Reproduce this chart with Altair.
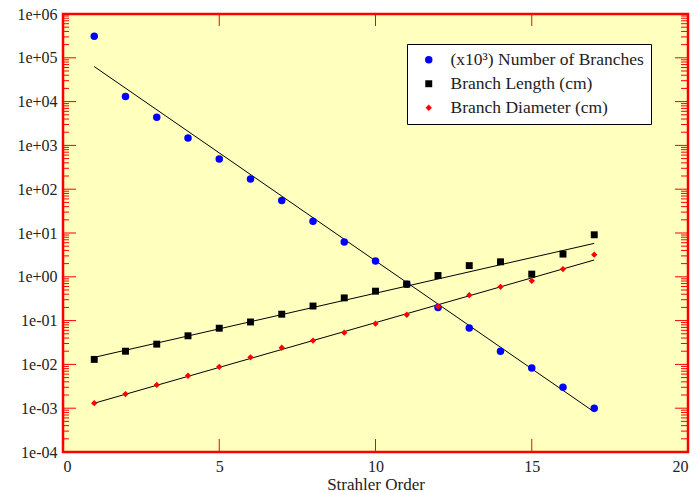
import altair as alt
import pandas as pd

# ---- data ----
order = list(range(1, 18))
branches = [3.1e5, 1.3e4, 4.4e3, 1.48e3, 490, 170, 55, 18.5, 6.2, 2.3,
            0.68, 0.2, 0.068, 0.02, 0.0083, 0.003, 0.001]
length = [0.013, 0.020, 0.029, 0.045, 0.067, 0.093, 0.14, 0.215, 0.33, 0.47,
          0.68, 1.07, 1.8, 2.2, 1.15, 3.3, 9.1]
diameter = [0.0013, 0.0021, 0.0034, 0.0055, 0.0088, 0.0145, 0.024, 0.035, 0.053, 0.085,
            0.136, 0.21, 0.38, 0.59, 0.81, 1.5, 3.2]

names = ["(x10\u00b3) Number of Branches", "Branch Length (cm)", "Branch Diameter (cm)"]
colors = ["#0000ff", "#000000", "#ff0000"]
shapes = ["circle", "square", "diamond"]
sizes = [56, 40, 44]

# fitted lines (end points)
fit_x = [1, 17]
fit_branches = [6.3e4, 8.2e-4]
fit_length = [0.0145, 5.8]
fit_diameter = [0.0013, 2.42]

y_major = [1e-4, 1e-3, 1e-2, 1e-1, 1e0, 1e1, 1e2, 1e3, 1e4, 1e5, 1e6]
y_minor = [m * 10.0 ** k for k in range(-4, 6) for m in range(2, 10)]
x_major = [5, 10, 15]
x_labels = [0, 5, 10, 15, 20]

W, H = 625, 438
SERIF = "Liberation Serif"

pts = pd.DataFrame({
    "order": order * 3,
    "value": branches + length + diameter,
    "series": [names[0]] * 17 + [names[1]] * 17 + [names[2]] * 17,
})
fits = pd.DataFrame({
    "order": fit_x * 3,
    "value": fit_branches + fit_length + fit_diameter,
    "series": [names[0]] * 2 + [names[1]] * 2 + [names[2]] * 2,
})

xs = alt.Scale(domain=[0, 20], nice=False, zero=False)
ys = alt.Scale(type="log", domain=[1e-4, 1e6], nice=False)

label_expr = ("'1e' + (round(log(datum.value)/LN10) < 0 ? '-' : '+') + "
              "(abs(round(log(datum.value)/LN10)) < 10 ? '0' : '') + "
              "abs(round(log(datum.value)/LN10))")

x_axis = alt.Axis(values=x_labels, ticks=False, domain=False, grid=False,
                  labelFont=SERIF, labelFontSize=16, labelColor="#222",
                  labelPadding=6, title="Strahler Order", titleFont=SERIF,
                  titleFontSize=17, titleFontWeight="normal", titleColor="#222",
                  titlePadding=2)
y_axis = alt.Axis(values=y_major, labelExpr=label_expr, ticks=False, domain=False,
                  grid=False, labelFont=SERIF, labelFontSize=16, labelColor="#222",
                  labelPadding=6, title=None)

lines = alt.Chart(fits).mark_line(color="black", strokeWidth=1).encode(
    x=alt.X("order:Q", scale=xs, axis=x_axis),
    y=alt.Y("value:Q", scale=ys, axis=y_axis),
    detail="series:N",
)

legend = alt.Legend(title=None, orient="none", legendX=344, legendY=30,
                    fillColor="white", strokeColor="black", padding=7,
                    symbolOffset=6, labelOffset=13, rowPadding=5,
                    labelLimit=0,
                    labelFont=SERIF, labelFontSize=17.5, labelColor="#222",
                    symbolStrokeWidth=0)

points = alt.Chart(pts).mark_point(filled=True, opacity=1).encode(
    x=alt.X("order:Q", scale=xs, axis=x_axis),
    y=alt.Y("value:Q", scale=ys, axis=y_axis),
    color=alt.Color("series:N", scale=alt.Scale(domain=names, range=colors), legend=legend),
    shape=alt.Shape("series:N", scale=alt.Scale(domain=names, range=shapes), legend=legend),
    size=alt.Size("series:N", scale=alt.Scale(domain=names, range=sizes), legend=legend),
)

ymaj = pd.DataFrame({"order": [0] * len(y_major), "value": y_major})
ymin = pd.DataFrame({"order": [0] * len(y_minor), "value": y_minor})
xmaj = pd.DataFrame({"order": x_major, "value": [1.0] * len(x_major)})

def yticks(df, x0, x1):
    return alt.Chart(df).mark_rule(color="#ff0000", strokeWidth=1).encode(
        y=alt.Y("value:Q", scale=ys, axis=y_axis), x=alt.value(x0), x2=alt.value(x1))

def xticks(df, y0, y1):
    return alt.Chart(df).mark_rule(color="#ff0000", strokeWidth=1).encode(
        x=alt.X("order:Q", scale=xs, axis=x_axis), y=alt.value(y0), y2=alt.value(y1))

ticks = [
    yticks(ymaj, 0, 13), yticks(ymin, 0, 6),
    yticks(ymaj, W, W - 13), yticks(ymin, W, W - 7),
    xticks(xmaj, H, H - 13), xticks(xmaj, 0, 12),
]

chart = alt.layer(lines, points, *ticks).properties(
    width=W, height=H, autosize="none",
    padding={"left": 63, "top": 14, "right": 11, "bottom": 40},
    background="white",
).configure_view(
    fill="#ffffbe", stroke="#ff0000", strokeWidth=2.5
)

chart.save("out.html", embed_options={"renderer": "svg", "actions": False})
